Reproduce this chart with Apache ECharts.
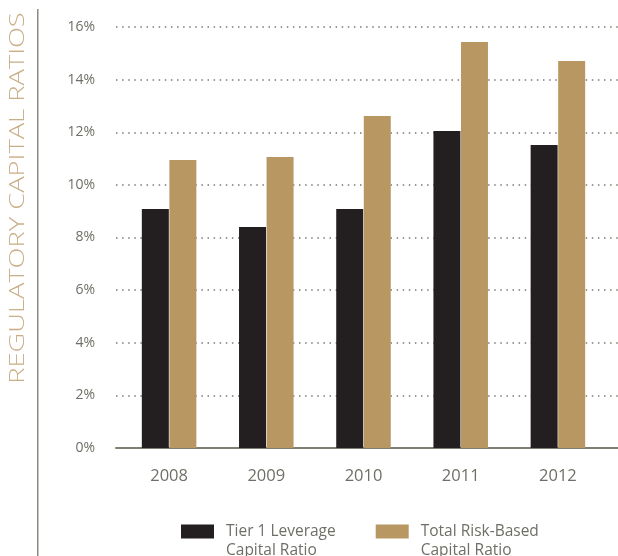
<!DOCTYPE html>
<html>
<head>
<meta charset="utf-8">
<script src="https://cdn.jsdelivr.net/npm/echarts@6/dist/echarts.min.js"></script>
<style>
  html, body { margin: 0; padding: 0; background: #fff; }
  #chart { width: 618px; height: 556px; }
</style>
</head>
<body>
<div id="chart"></div>
<script>
// Regulatory capital ratios by year (percent)
const years = ['2008', '2009', '2010', '2011', '2012'];
const tier1Leverage = [9.08, 8.40, 9.08, 12.05, 11.52];
const totalRiskBased = [10.95, 11.06, 12.62, 15.43, 14.71];
const seriesNames = ['Tier 1 Leverage\nCapital Ratio', 'Total Risk-Based\nCapital Ratio'];
const axisTitle = 'REGULATORY CAPITAL RATIOS';

const FONT = '"Open Sans", Lato, sans-serif';
const LABEL = '#6e6f66';
const DARK = '#231f20';
const TAN = '#b89763';

const chart = echarts.init(document.getElementById('chart'), null, { renderer: 'canvas' });

chart.setOption({
  animation: false,
  backgroundColor: '#ffffff',
  grid: [
    // wide grid carrying the dotted guides, tick labels and baseline
    { left: 116, right: 0, top: 27, bottom: 108 },
    // inner grid for the bars
    { left: 120.5, right: 11.5, top: 27, bottom: 108 }
  ],
  xAxis: [
    {
      gridIndex: 0, type: 'category', data: years,
      axisLine: { show: true, lineStyle: { color: '#7d7f72', width: 2 } },
      axisTick: { show: false }, axisLabel: { show: false }, splitLine: { show: false }
    },
    {
      gridIndex: 1, type: 'category', data: years,
      axisLine: { show: false }, axisTick: { show: false },
      axisLabel: { color: LABEL, fontFamily: FONT, fontSize: 16.5, margin: 20 }
    }
  ],
  yAxis: [
    {
      gridIndex: 0, type: 'value', min: 0, max: 16, interval: 2,
      axisLine: { show: false }, axisTick: { show: false },
      axisLabel: { color: LABEL, fontFamily: FONT, fontSize: 14, margin: 21, formatter: '{value}%' },
      splitLine: { show: true, lineStyle: { color: '#7a7a72', width: 1.5, type: [1.5, 4.6] } }
    },
    {
      gridIndex: 1, type: 'value', min: 0, max: 16, interval: 2,
      axisLine: { show: false }, axisTick: { show: false },
      axisLabel: { show: false }, splitLine: { show: false }
    }
  ],
  legend: {
    left: 176, top: 498,
    itemWidth: 33, itemHeight: 14, itemGap: 40,
    icon: 'rect',
    data: seriesNames,
    // a leading blank line keeps the first text line level with the swatch
    formatter: name => '\n' + name,
    textStyle: {
      color: LABEL, fontFamily: FONT, fontSize: 15.5, lineHeight: 19,
      padding: [0, 0, 0, 7]
    }
  },
  graphic: [
    {
      type: 'rect', silent: true,
      shape: { x: 37, y: 9, width: 1.5, height: 547 },
      style: { fill: '#8a8b80' }
    },
    {
      type: 'text', silent: true,
      x: 18.5, y: 198, rotation: Math.PI / 2, scaleX: 1.3,
      style: {
        text: axisTitle, fill: '#c9ae87',
        font: '300 21px ' + FONT,
        align: 'center', verticalAlign: 'middle'
      }
    }
  ],
  series: [
    {
      name: seriesNames[0], type: 'bar', xAxisIndex: 1, yAxisIndex: 1,
      data: tier1Leverage, barWidth: 27, barGap: '2%',
      itemStyle: { color: DARK }
    },
    {
      name: seriesNames[1], type: 'bar', xAxisIndex: 1, yAxisIndex: 1,
      data: totalRiskBased, barWidth: 27, barGap: '2%',
      itemStyle: { color: TAN }
    }
  ]
});
</script>
</body>
</html>
